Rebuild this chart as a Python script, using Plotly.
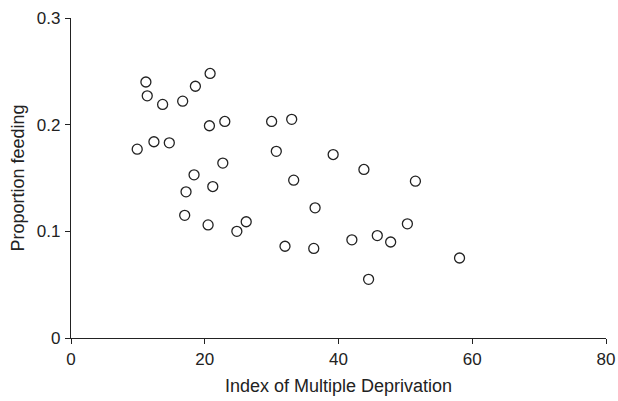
import plotly.graph_objects as go

imd = [11.2, 11.4, 13.7, 16.7, 18.6, 20.8, 20.7, 23.0, 30.0, 33.0,
       9.9, 12.4, 14.7, 30.7, 39.2, 22.7, 18.4, 33.3, 21.2, 17.2,
       17.0, 20.5, 24.8, 26.2, 32.0, 36.3, 36.5,
       43.8, 51.5, 50.3, 42.0, 45.8, 47.8, 58.1, 44.5]
feeding = [0.240, 0.227, 0.219, 0.222, 0.236, 0.248, 0.199, 0.203, 0.203, 0.205,
           0.177, 0.184, 0.183, 0.175, 0.172, 0.164, 0.153, 0.148, 0.142, 0.137,
           0.115, 0.106, 0.100, 0.109, 0.086, 0.084, 0.122,
           0.158, 0.147, 0.107, 0.092, 0.096, 0.090, 0.075, 0.055]

x_ticks = [0, 20, 40, 60, 80]
y_ticks = [0, 0.1, 0.2, 0.3]
y_tick_labels = ["0", "0.1", "0.2", "0.3"]

FAM = "Liberation Sans, Arial, sans-serif"
INK = "#222222"

fig = go.Figure()
fig.add_trace(go.Scatter(
    x=imd, y=feeding, mode="markers",
    marker=dict(symbol="circle-open", size=10, color=INK,
                line=dict(width=1.3, color=INK)),
    cliponaxis=False, showlegend=False, hoverinfo="skip",
))

fig.update_layout(
    width=618, height=401,
    margin=dict(l=71, r=12, t=18, b=63),
    paper_bgcolor="white", plot_bgcolor="white",
    font=dict(family=FAM, size=17, color=INK),
)
fig.update_xaxes(
    range=[0, 80], tickvals=x_ticks, showgrid=False, zeroline=False,
    showline=True, linecolor=INK, linewidth=1.2,
    ticks="outside", ticklen=5, tickwidth=1.2, tickcolor=INK,
    tickfont=dict(family=FAM, size=17, color=INK), automargin=False,
    title=dict(text="Index of Multiple Deprivation", standoff=11,
               font=dict(family=FAM, size=18, color=INK)),
)
fig.update_yaxes(
    range=[0, 0.3], tickvals=y_ticks, ticktext=y_tick_labels, showgrid=False,
    zeroline=False, showline=True, linecolor=INK, linewidth=1.2,
    ticks="outside", ticklen=5, tickwidth=1.2, tickcolor=INK,
    tickfont=dict(family=FAM, size=17, color=INK), automargin=False,
    ticklabelstandoff=1,
    title=dict(text="Proportion feeding", standoff=7,
               font=dict(family=FAM, size=18, color=INK)),
)

fig.write_html(
    "out.html",
    config={"displayModeBar": False},
    post_script="document.body.style.margin='0';document.body.style.overflow='hidden';",
)
